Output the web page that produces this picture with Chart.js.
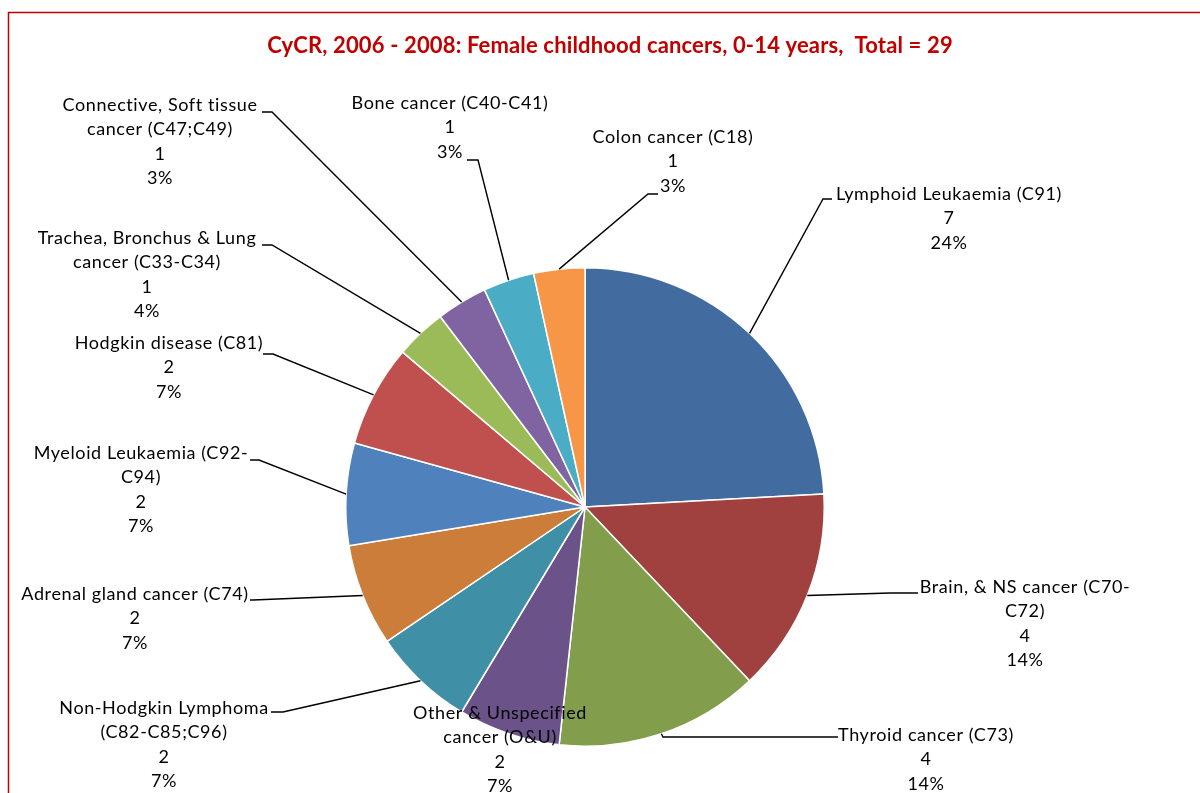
<!DOCTYPE html>
<html>
<head>
<meta charset="utf-8">
<script src="https://cdn.jsdelivr.net/npm/chart.js@4.4.1/dist/chart.umd.min.js"></script>
<style>
  html, body { margin: 0; padding: 0; background: #ffffff; }
  #wrap { position: relative; width: 1200px; height: 793px; }
</style>
</head>
<body>
<div id="wrap"><canvas id="c" width="1200" height="793"></canvas></div>
<script>
// ---- data ----
const titleText = 'CyCR, 2006 - 2008: Female childhood cancers, 0-14 years,  Total = 29';
const categories = [
  ['Lymphoid Leukaemia (C91)'],
  ['Brain, & NS cancer (C70-', 'C72)'],
  ['Thyroid cancer (C73)'],
  ['Other & Unspecified', 'cancer (O&U)'],
  ['Non-Hodgkin Lymphoma', '(C82-C85;C96)'],
  ['Adrenal gland cancer (C74)'],
  ['Myeloid Leukaemia (C92-', 'C94)'],
  ['Hodgkin disease (C81)'],
  ['Trachea, Bronchus & Lung', 'cancer (C33-C34)'],
  ['Connective, Soft tissue', 'cancer (C47;C49)'],
  ['Bone cancer (C40-C41)'],
  ['Colon cancer (C18)']
];
const values = [7, 4, 4, 2, 2, 2, 2, 2, 1, 1, 1, 1];
const percentLabels = ['24%', '14%', '14%', '7%', '7%', '7%', '7%', '7%', '4%', '3%', '3%', '3%'];

// ---- styling / layout (not data) ----
const sliceColors = ['#426B9F', '#A1413F', '#829D4B', '#6B5288', '#3F8FA6', '#CD7D3A',
                     '#4F81BD', '#C0504D', '#9BBB59', '#8064A2', '#4BACC6', '#F79646'];
const labelLayout = [
  {cx: 949, y: 194, elbow: [823, 199], attach: 832},
  {cx: 1025, y: 587, elbow: [890, 593], attach: 918},
  {cx: 926, y: 735, elbow: [663, 737], attach: 838},
  {cx: 500, y: 713, elbow: null},
  {cx: 164, y: 708, elbow: [283, 712], attach: 271},
  {cx: 135, y: 594, elbow: [253, 600], attach: 250},
  {cx: 141, y: 453, elbow: [259, 460], attach: 250},
  {cx: 169, y: 343, elbow: [273, 354], attach: 263},
  {cx: 147, y: 238, elbow: [272, 245], attach: 262},
  {cx: 160, y: 105, elbow: [272, 112], attach: 262},
  {cx: 450, y: 103, elbow: [478, 160], attach: 467},
  {cx: 673, y: 137, elbow: [648, 194], attach: 658}
];
const LABEL_FONT = '18px Lato, "Liberation Sans", sans-serif';
const LABEL_SPACING = '0.6px';
const LINE_H = 24.5;

const annotatePlugin = {
  id: 'annotate',
  beforeDraw(chart) {
    const ctx = chart.ctx;
    ctx.save();
    ctx.fillStyle = '#ffffff';
    ctx.fillRect(0, 0, chart.width, chart.height);
    ctx.strokeStyle = '#C00000';
    ctx.lineWidth = 1.5;
    ctx.strokeRect(8.5, 12.5, 1300, 900);
    ctx.restore();
  },
  afterDatasetsDraw(chart) {
    const ctx = chart.ctx;
    const meta = chart.getDatasetMeta(0);
    ctx.save();
    // title
    ctx.fillStyle = '#C00000';
    ctx.font = 'bold 22px Lato, "Liberation Sans", sans-serif';
    ctx.letterSpacing = '0.15px';
    ctx.textAlign = 'center';
    ctx.textBaseline = 'middle';
    ctx.fillText(titleText, 610, 46);

    // leader lines
    ctx.strokeStyle = '#000000';
    ctx.lineWidth = 1.4;
    meta.data.forEach((arc, i) => {
      const L = labelLayout[i];
      if (!L.elbow) return;
      const p = arc.getProps(['x', 'y', 'startAngle', 'endAngle', 'outerRadius'], true);
      const mid = (p.startAngle + p.endAngle) / 2;
      const sx = p.x + Math.cos(mid) * p.outerRadius;
      const sy = p.y + Math.sin(mid) * p.outerRadius;
      ctx.beginPath();
      ctx.moveTo(sx, sy);
      ctx.lineTo(L.elbow[0], L.elbow[1]);
      ctx.lineTo(L.attach, L.elbow[1]);
      ctx.stroke();
    });

    // labels
    ctx.fillStyle = '#000000';
    ctx.font = LABEL_FONT;
    ctx.letterSpacing = LABEL_SPACING;
    ctx.textAlign = 'center';
    ctx.textBaseline = 'middle';
    categories.forEach((lines, i) => {
      const L = labelLayout[i];
      const all = lines.concat([String(values[i]), percentLabels[i]]);
      all.forEach((t, k) => ctx.fillText(t, L.cx, L.y + k * LINE_H));
    });
    ctx.restore();
  }
};

new Chart(document.getElementById('c'), {
  type: 'pie',
  data: {
    labels: categories.map(l => l.join(' ')),
    datasets: [{
      data: values,
      backgroundColor: sliceColors,
      borderColor: '#ffffff',
      borderWidth: 1.5
    }]
  },
  options: {
    responsive: false,
    animation: false,
    layout: { padding: { left: 345, right: 375, top: 267, bottom: 46 } },
    plugins: {
      legend: { display: false },
      tooltip: { enabled: false },
      title: { display: false }
    }
  },
  plugins: [annotatePlugin]
});
</script>
</body>
</html>
